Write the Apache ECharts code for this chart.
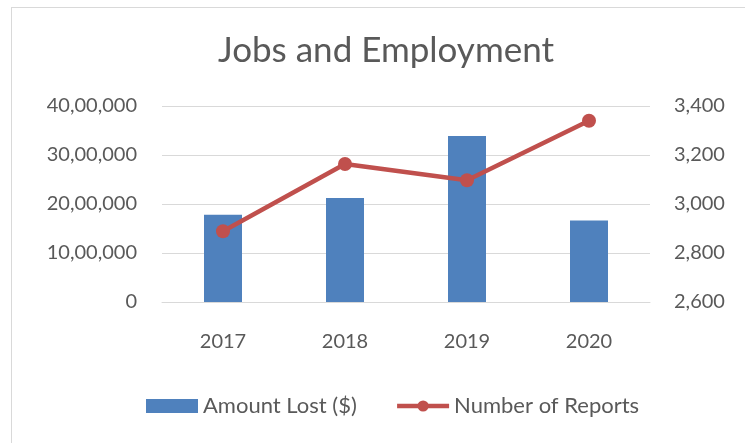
<!DOCTYPE html>
<html>
<head>
<meta charset="utf-8">
<script src="https://cdn.jsdelivr.net/npm/echarts@6/dist/echarts.min.js"></script>
<style>
  html, body { margin: 0; padding: 0; background: #fff; overflow: hidden; }
  #frame { position: absolute; left: 11px; top: 7px; width: 800px; height: 500px; border: 1.5px solid #d9d9d9; }
  #chart { position: absolute; left: 0; top: 0; width: 745px; height: 443px; }
</style>
</head>
<body>
<div id="frame"></div>
<div id="chart"></div>
<script>
// === Données ===
const years = ['2017', '2018', '2019', '2020'];
const amountLost = [1780000, 2120000, 3390000, 1665000];
const reports = [2889, 3163, 3097, 3340];

const fontFamily = 'Lato, "Open Sans", sans-serif';
const textColor = '#595959';

// format indien : 40,00,000
function formatIndien(v) {
    const s = String(Math.round(v));
    if (s.length <= 3) return s;
    const last3 = s.slice(-3);
    const rest = s.slice(0, -3).replace(/\B(?=(\d{2})+(?!\d))/g, ',');
    return rest + ',' + last3;
}

const myChart = echarts.init(document.getElementById('chart'));
const option = {
    animation: false,
    textStyle: { fontFamily },
    title: {
        text: 'Jobs and Employment',
        left: 381,
        textAlign: 'center',
        top: 28,
        textStyle: { fontFamily, fontSize: 35, fontWeight: 'normal', color: textColor }
    },
    legend: {
        bottom: 21,
        left: 141,
        itemWidth: 52,
        itemHeight: 14,
        itemGap: 38,
        textStyle: { fontFamily, fontSize: 22, color: textColor },
        data: [
            { name: 'Amount Lost ($)', icon: 'rect' },
            { name: 'Number of Reports', lineStyle: { width: 4.5 } }
        ]
    },
    grid: { left: 162, right: 95, top: 106, bottom: 141 },
    xAxis: {
        type: 'category',
        data: years,
        axisLine: { show: true, lineStyle: { color: '#d9d9d9' } },
        axisTick: { show: false },
        axisLabel: { color: textColor, fontSize: 20, margin: 30, fontFamily }
    },
    yAxis: [
        {
            type: 'value',
            min: 0,
            max: 4000000,
            interval: 1000000,
            axisLine: { show: false },
            axisTick: { show: false },
            splitLine: { lineStyle: { color: '#d9d9d9', width: 1 } },
            axisLabel: { color: textColor, fontSize: 20, margin: 25, fontFamily, formatter: formatIndien }
        },
        {
            type: 'value',
            min: 2600,
            max: 3400,
            interval: 200,
            axisLine: { show: false },
            axisTick: { show: false },
            splitLine: { show: false },
            axisLabel: {
                color: textColor, fontSize: 20, margin: 24, fontFamily,
                formatter: v => v.toLocaleString('en-US')
            }
        }
    ],
    series: [
        {
            name: 'Amount Lost ($)',
            type: 'bar',
            data: amountLost,
            barWidth: 38,
            itemStyle: { color: '#4f81bd' }
        },
        {
            name: 'Number of Reports',
            type: 'line',
            yAxisIndex: 1,
            data: reports,
            symbol: 'circle',
            symbolSize: 14,
            lineStyle: { color: '#c0504d', width: 4.5 },
            itemStyle: { color: '#c0504d' }
        }
    ]
};
myChart.setOption(option);
</script>
</body>
</html>
